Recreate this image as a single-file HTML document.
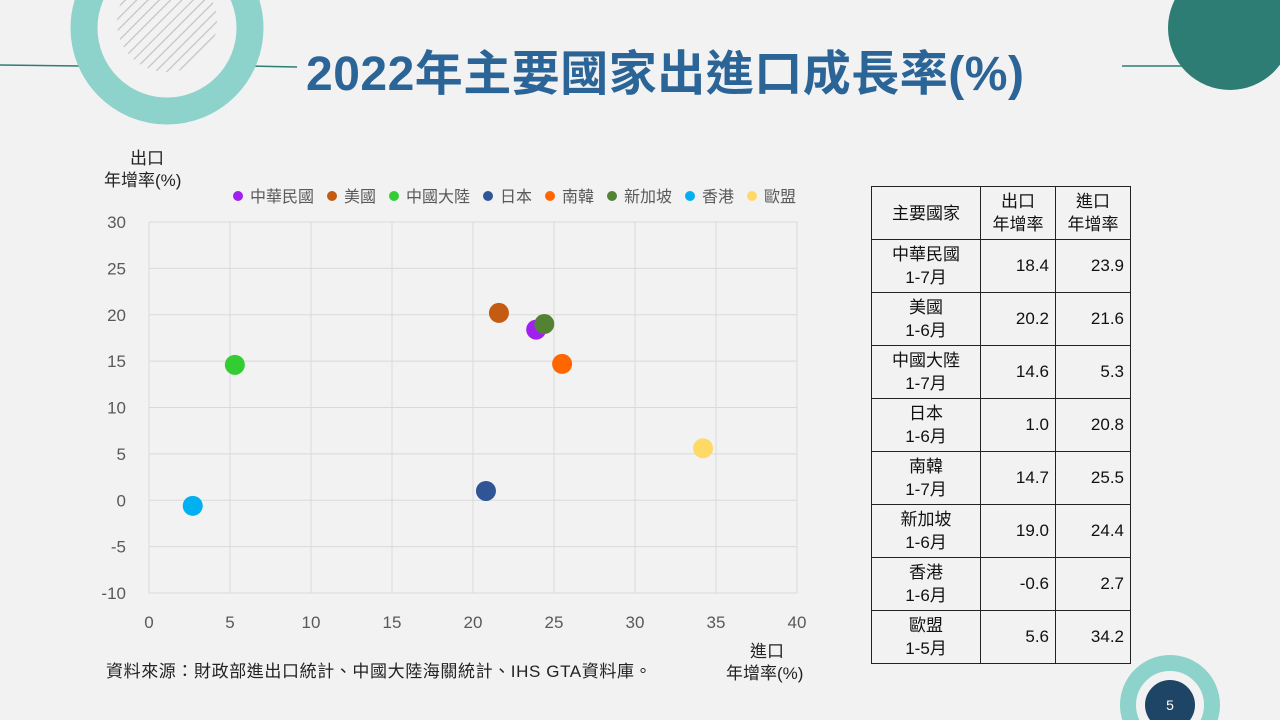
<!DOCTYPE html>
<html><head><meta charset="utf-8">
<style>
body{margin:0;width:1280px;height:720px;background:#f2f2f2;overflow:hidden;position:relative;font-family:"Liberation Sans","Noto Sans CJK TC",sans-serif;}
.abs{position:absolute;}
table{border-collapse:collapse;position:absolute;left:871px;top:186px;font-size:17px;color:#111;}
td{border:1px solid #222;padding:0 6px;height:52px;}
td.n{text-align:right;}
td.c{text-align:center;line-height:23px;}
</style></head><body>
<svg class="abs" style="left:0;top:0" width="1280" height="720">
<defs><pattern id="h" width="8" height="8" patternUnits="userSpaceOnUse" patternTransform="rotate(45)"><line x1="0" y1="0" x2="0" y2="8" stroke="#c4c4c4" stroke-width="2.5"/></pattern></defs>
<line x1="0" y1="65" x2="80" y2="66" stroke="#2e7d74" stroke-width="1.5"/>
<line x1="245" y1="66" x2="297" y2="67" stroke="#2e7d74" stroke-width="1.5"/>
<circle cx="167" cy="28" r="83" fill="none" stroke="#8dd3cc" stroke-width="27"/>
<circle cx="167" cy="22" r="50" fill="url(#h)"/>
<line x1="1122" y1="66" x2="1190" y2="66" stroke="#2e7d74" stroke-width="1.5"/>
<circle cx="1230" cy="28" r="62" fill="#2e7d74"/>
<circle cx="1170" cy="705" r="42" fill="none" stroke="#8dd3cc" stroke-width="16"/>
<circle cx="1170" cy="705" r="25" fill="#1e4466"/>
<text x="1170" y="710" fill="#fff" font-size="14" text-anchor="middle">5</text>
</svg>
<div class="abs" style="left:306px;top:34px;font-size:48px;letter-spacing:0.5px;font-weight:bold;color:#2b6496;white-space:nowrap;">2022年主要國家出進口成長率(%)</div>
<svg class="abs" id="chart" style="left:0;top:0" width="860" height="720"></svg>
<table>
<tr><td class="c" style="width:96px">主要國家</td><td class="c" style="width:62px">出口<br>年增率</td><td class="c" style="width:62px">進口<br>年增率</td></tr>
<tr><td class="c">中華民國<br>1-7月</td><td class="n">18.4</td><td class="n">23.9</td></tr>
<tr><td class="c">美國<br>1-6月</td><td class="n">20.2</td><td class="n">21.6</td></tr>
<tr><td class="c">中國大陸<br>1-7月</td><td class="n">14.6</td><td class="n">5.3</td></tr>
<tr><td class="c">日本<br>1-6月</td><td class="n">1.0</td><td class="n">20.8</td></tr>
<tr><td class="c">南韓<br>1-7月</td><td class="n">14.7</td><td class="n">25.5</td></tr>
<tr><td class="c">新加坡<br>1-6月</td><td class="n">19.0</td><td class="n">24.4</td></tr>
<tr><td class="c">香港<br>1-6月</td><td class="n">-0.6</td><td class="n">2.7</td></tr>
<tr><td class="c" style="height:49px">歐盟<br>1-5月</td><td class="n">5.6</td><td class="n">34.2</td></tr>
</table>
<script>
const names=["中華民國","美國","中國大陸","日本","南韓","新加坡","香港","歐盟"];
const exportsG=[18.4,20.2,14.6,1.0,14.7,19.0,-0.6,5.6];
const importsG=[23.9,21.6,5.3,20.8,25.5,24.4,2.7,34.2];
const colors=["#a020f0","#c55a11","#33cc33","#2f5597","#ff6600","#548235","#00b0f0","#ffd966"];
const xTicks=[0,5,10,15,20,25,30,35,40];
const yTicks=[30,25,20,15,10,5,0,-5,-10];
const svg=document.getElementById('chart');const NS="http://www.w3.org/2000/svg";
const X=v=>149+(v/40)*648, Y=v=>222+(30-v)/40*371;
function mk(t,a,p){const e=document.createElementNS(NS,t);for(const k in a)e.setAttribute(k,a[k]);(p||svg).appendChild(e);return e;}
xTicks.forEach(t=>{const l=mk('line',{x1:X(t),x2:X(t),y1:Y(30),y2:Y(-10),stroke:'#d9d9d9'});
const tx=mk('text',{x:X(t),y:628,'font-size':17,fill:'#595959','text-anchor':'middle'});tx.textContent=t;});
yTicks.forEach(t=>{const l=mk('line',{x1:X(0),x2:X(40),y1:Y(t),y2:Y(t),stroke:'#d9d9d9'});
const tx=mk('text',{x:126,y:Y(t)+6,'font-size':17,fill:'#595959','text-anchor':'end'});tx.textContent=t;});
names.forEach((n,i)=>{const c=mk('circle',{cx:X(importsG[i]),cy:Y(exportsG[i]),r:10,fill:colors[i]});});
let lx=233;
names.forEach((n,i)=>{const c=mk('circle',{cx:lx+5,cy:196,r:5,fill:colors[i]});
const t=mk('text',{x:lx+17,y:202,'font-size':16,fill:'#595959'});t.textContent=n;lx+=17+n.length*16+13;});
[["出口",130,164],["年增率(%)",104,186],["進口",750,657],["年增率(%)",726,679]].forEach(a=>{const t=mk('text',{x:a[1],y:a[2],'font-size':17,fill:'#222'});t.textContent=a[0];});
const s=mk('text',{x:106,y:677,'font-size':17,fill:'#222','letter-spacing':'0.6'});s.textContent="資料來源：財政部進出口統計、中國大陸海關統計、IHS GTA資料庫。";
</script>
</body></html>
